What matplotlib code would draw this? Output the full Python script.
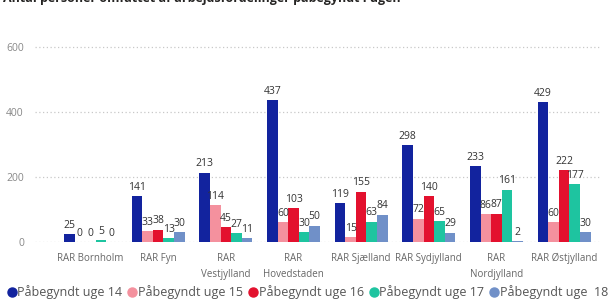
import matplotlib
matplotlib.use('Agg')
import matplotlib.pyplot as plt
from matplotlib.lines import Line2D
import numpy as np

plt.rcParams['font.family'] = ['Open Sans', 'DejaVu Sans']

# data
categories = ['RAR Bornholm', 'RAR Fyn', 'RAR\nVestjylland', 'RAR\nHovedstaden',
              'RAR Sjælland', 'RAR Sydjylland', 'RAR\nNordjylland', 'RAR Østjylland']
series_names = ['Påbegyndt uge 14', 'Påbegyndt uge 15', 'Påbegyndt uge 16',
                'Påbegyndt uge 17', 'Påbegyndt uge  18']
uge14 = [25, 141, 213, 437, 119, 298, 233, 429]
uge15 = [0, 33, 114, 60, 15, 72, 86, 60]
uge16 = [0, 38, 45, 103, 155, 140, 87, 222]
uge17 = [5, 13, 27, 30, 63, 65, 161, 177]
uge18 = [0, 30, 11, 50, 84, 29, 2, 30]
yticks = [0, 200, 400, 600]

colors = ['#12239E', '#F4919E', '#E3112E', '#1EC4A0', '#7090C8']
values = [uge14, uge15, uge16, uge17, uge18]

fig = plt.figure(figsize=(6.15, 3.01), dpi=100)
ax = fig.add_axes([35 / 615, 59 / 301, 565 / 615, 202 / 301])

x = np.arange(len(categories))
n = len(values)
bw = 0.156
for i, (vals, col) in enumerate(zip(values, colors)):
    pos = x + (i - (n - 1) / 2) * bw
    ax.bar(pos, vals, width=bw, color=col, zorder=2)
    for px, v in zip(pos, vals):
        ax.text(px, v + 10, str(v), ha='center', va='bottom', fontsize=7.5,
                color='#333333', zorder=3)

ax.set_xlim(-0.82, 7.53)
ax.set_ylim(0, 621)
ax.set_yticks(yticks)
ax.set_yticklabels([str(t) for t in yticks], fontsize=7.5, color='#888888')
ax.set_xticks(x)
ax.set_xticklabels(categories, fontsize=7, color='#666666', linespacing=1.6)
ax.tick_params(length=0, pad=8)
ax.tick_params(axis='y', pad=8)
ax.grid(axis='y', linestyle=(0, (1, 2)), color='#C8C8C8', linewidth=0.9, zorder=0)
for s in ax.spines.values():
    s.set_visible(False)

# title is cut off at the top of the picture
fig.text(3 / 615, 1 - 2 / 301, 'Antal personer omfattet af arbejdsfordelinger påbegyndt i ugen',
         fontsize=9, fontweight='bold', color='#252423', va='baseline', ha='left')

handles = [Line2D([], [], marker='o', linestyle='none', markersize=6.5,
                  markerfacecolor=c, markeredgecolor=c) for c in colors]
fig.legend(handles, series_names, loc='center', bbox_to_anchor=(0.5, 1 - 292 / 301),
           ncol=5, frameon=False, fontsize=9, handletextpad=0.05, columnspacing=0.4,
           handlelength=0.8, labelcolor='#555555', borderaxespad=0)

fig.savefig('out.png', dpi=100)
